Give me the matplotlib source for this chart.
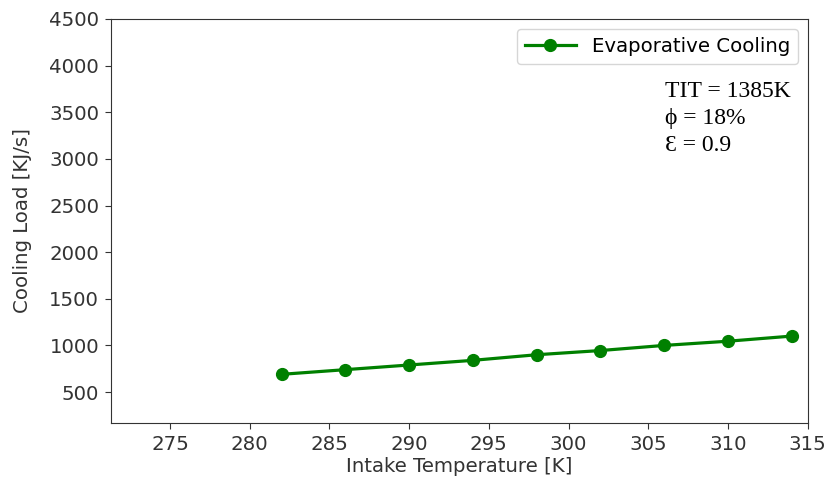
import matplotlib
matplotlib.use("Agg")
import matplotlib.pyplot as plt

intake_temp = [282, 286, 290, 294, 298, 302, 306, 310, 314]
cooling_load = [690, 740, 790, 840, 900, 945, 1000, 1045, 1100]
series_label = "Evaporative Cooling"
x_label = "Intake Temperature [K]"
y_label = "Cooling Load [KJ/s]"
annotation_lines = ["TIT = 1385K", "\u03d5 = 18%", "\u0190 = 0.9"]

FS = 14.2
fig = plt.figure(figsize=(8.25, 4.83), dpi=100)
ax = fig.add_axes([0.1345, 0.1242, 0.979 - 0.1345, 0.9607 - 0.1242])
ax.plot(intake_temp, cooling_load, color="green", marker="o", linewidth=2.3,
        markersize=8.5, label=series_label)
ax.set_xlim(271.3, 315)
ax.set_ylim(168, 4500)
ax.set_xticks([275, 280, 285, 290, 295, 300, 305, 310, 315])
ax.set_yticks([500, 1000, 1500, 2000, 2500, 3000, 3500, 4000, 4500])
ax.tick_params(labelsize=FS, colors="#333333", labelcolor="#333333", length=4.5, pad=4)
for s in ax.spines.values():
    s.set_color("#333333")
ax.set_xlabel(x_label, fontsize=FS, color="#333333", labelpad=2)
ax.set_ylabel(y_label, fontsize=FS, color="#333333", labelpad=12)
ax.legend(loc="upper right", fontsize=FS, handlelength=2.6, borderaxespad=0.5,
          handletextpad=0.8)

for i, line in enumerate(annotation_lines):
    fig.text(665 / 825, 1 - (97 + 27 * i) / 483, line, fontsize=17,
             family=["Liberation Serif", "DejaVu Serif"], color="black",
             ha="left", va="baseline")

fig.savefig("out.png", dpi=100)
